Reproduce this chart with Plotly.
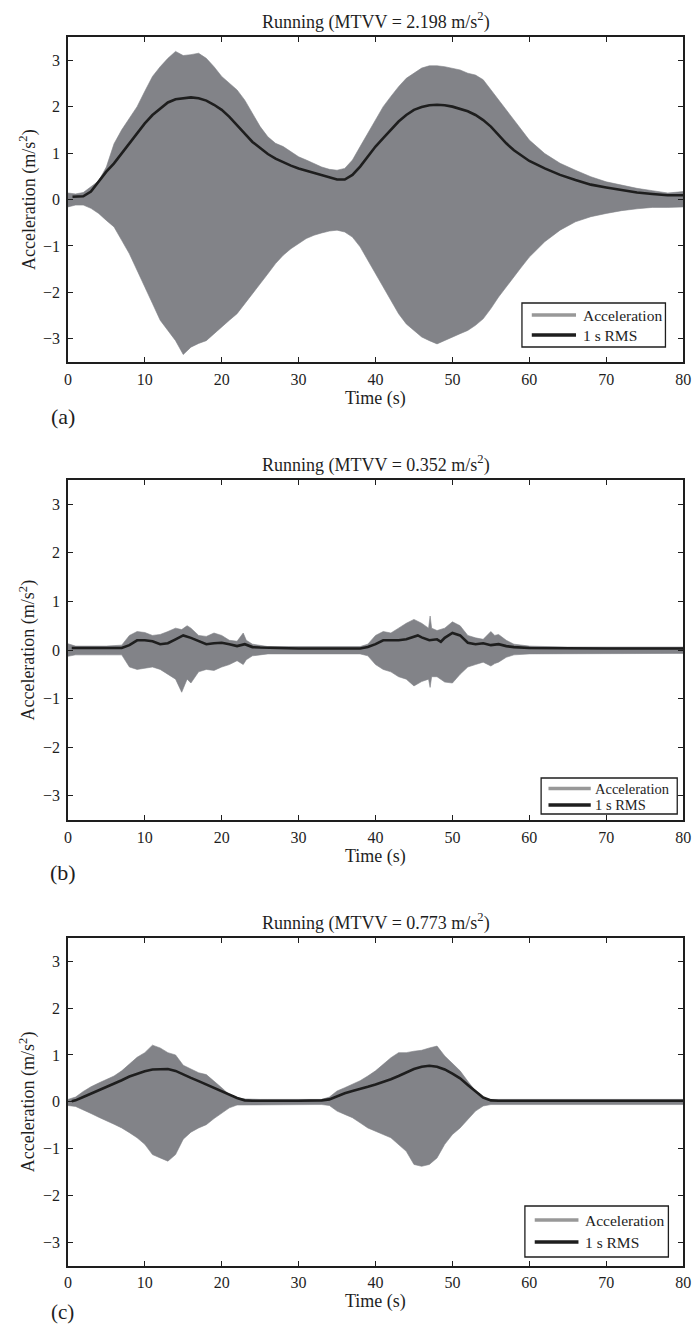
import plotly.graph_objects as go

# ---------------- data ----------------
# Panel (a)
T_A = [0, 1, 2, 3, 4, 5, 6, 7, 8, 9, 10, 11, 12, 13, 14, 15, 16, 17, 18, 19, 20,
       21, 22, 23, 24, 25, 26, 27, 28, 29, 30, 31, 32, 33, 34, 35, 36, 37, 38, 39, 40,
       41, 42, 43, 44, 45, 46, 47, 48, 49, 50, 51, 52, 53, 54, 55, 56, 57, 58, 59, 60,
       62, 64, 66, 68, 70, 72, 74, 76, 78, 80]
UPPER_A = [0.14, 0.12, 0.15, 0.27, 0.40, 0.70, 1.20, 1.50, 1.75, 2.00, 2.33,
           2.65, 2.86, 3.04, 3.19, 3.10, 3.12, 3.15, 3.04, 2.86, 2.65,
           2.50, 2.36, 2.14, 1.86, 1.57, 1.35, 1.21, 1.14, 1.03, 0.92,
           0.85, 0.78, 0.70, 0.65, 0.63, 0.67, 0.85, 1.14, 1.42, 1.71,
           2.00, 2.22, 2.43, 2.61, 2.72, 2.83, 2.88, 2.88, 2.86, 2.83,
           2.79, 2.72, 2.68, 2.58, 2.36, 2.14, 1.93, 1.71, 1.50, 1.28,
           0.99, 0.78, 0.63, 0.49, 0.38, 0.31, 0.24, 0.19, 0.14, 0.17]
LOWER_A = [-0.16, -0.12, -0.12, -0.19, -0.30, -0.45, -0.59, -0.88, -1.17, -1.53, -1.88,
           -2.24, -2.60, -2.82, -3.04, -3.34, -3.18, -3.10, -3.04, -2.89, -2.75,
           -2.60, -2.46, -2.24, -2.03, -1.81, -1.60, -1.38, -1.20, -1.06, -0.95,
           -0.84, -0.77, -0.72, -0.68, -0.66, -0.70, -0.81, -1.02, -1.31, -1.60,
           -1.88, -2.17, -2.46, -2.68, -2.82, -2.96, -3.04, -3.11, -3.04, -2.96,
           -2.89, -2.82, -2.71, -2.57, -2.35, -2.10, -1.88, -1.67, -1.45, -1.24,
           -0.91, -0.66, -0.48, -0.37, -0.30, -0.24, -0.20, -0.17, -0.17, -0.16]
RMS_T_A = [0.6, 1, 2, 3, 4, 5, 6, 7, 8, 9, 10, 11, 12, 13, 14, 15, 16, 17, 18, 19, 20,
           21, 22, 23, 24, 25, 26, 27, 28, 29, 30, 31, 32, 33, 34, 35, 36, 37, 38, 39, 40,
           41, 42, 43, 44, 45, 46, 47, 48, 49, 50, 51, 52, 53, 54, 55, 56, 57, 58, 59, 60,
           62, 64, 66, 68, 70, 72, 74, 76, 78, 80]
RMS_A = [0.06, 0.06, 0.07, 0.17, 0.38, 0.60, 0.78, 0.99, 1.21, 1.42, 1.64,
         1.82, 1.96, 2.09, 2.16, 2.18, 2.20, 2.18, 2.13, 2.04, 1.93,
         1.78, 1.61, 1.42, 1.24, 1.10, 0.98, 0.88, 0.80, 0.73, 0.67,
         0.62, 0.58, 0.53, 0.47, 0.43, 0.43, 0.53, 0.71, 0.92, 1.14,
         1.32, 1.50, 1.68, 1.82, 1.93, 1.99, 2.03, 2.04, 2.03, 2.00,
         1.95, 1.90, 1.82, 1.71, 1.57, 1.39, 1.21, 1.06, 0.94, 0.83,
         0.67, 0.53, 0.42, 0.32, 0.26, 0.20, 0.15, 0.12, 0.09, 0.09]

# Panel (b)
T_B = [0, 1, 3, 5, 7, 8, 9, 10, 11, 12, 13, 14, 14.8, 15.5, 16, 17, 18, 19, 20,
       21, 22, 22.8, 23.2, 24, 26, 30, 34, 38, 39, 40, 41, 42, 43, 44, 45, 46,
       46.9, 47.1, 47.3, 48, 49, 50, 51, 52, 53, 54, 55, 55.5, 56, 57, 58, 60,
       65, 70, 75, 80]
UPPER_B = [0.13, 0.08, 0.08, 0.08, 0.10, 0.30, 0.38, 0.36, 0.30, 0.32, 0.38, 0.45,
           0.42, 0.50, 0.45, 0.30, 0.28, 0.35, 0.30, 0.20, 0.18, 0.35, 0.20, 0.12,
           0.07, 0.07, 0.07, 0.07, 0.12, 0.30, 0.38, 0.35, 0.45, 0.55, 0.63, 0.55,
           0.45, 0.70, 0.45, 0.40, 0.45, 0.58, 0.50, 0.30, 0.25, 0.22, 0.38, 0.30,
           0.32, 0.20, 0.12, 0.08, 0.06, 0.06, 0.06, 0.06]
LOWER_B = [-0.13, -0.10, -0.10, -0.10, -0.10, -0.35, -0.40, -0.38, -0.35, -0.40, -0.50, -0.60,
           -0.87, -0.60, -0.68, -0.45, -0.40, -0.42, -0.35, -0.30, -0.22, -0.30, -0.20, -0.12,
           -0.08, -0.08, -0.08, -0.08, -0.12, -0.30, -0.40, -0.45, -0.55, -0.60, -0.74, -0.65,
           -0.60, -0.77, -0.55, -0.55, -0.66, -0.68, -0.50, -0.35, -0.30, -0.25, -0.33, -0.28,
           -0.25, -0.15, -0.10, -0.08, -0.07, -0.07, -0.07, -0.07]
RMS_T_B = [0.5, 7, 8, 9, 10, 11, 12, 13, 14, 15, 16, 17, 18, 19, 20, 21, 22, 23, 24, 25,
           30, 38, 39, 40, 41, 42, 43, 44, 45, 45.5, 46, 47, 48, 48.5, 49, 50,
           51, 52, 53, 54, 55, 56, 57, 58, 60, 65, 70, 80]
RMS_B = [0.04, 0.04, 0.10, 0.20, 0.20, 0.18, 0.12, 0.14, 0.22, 0.30, 0.25, 0.18, 0.12,
         0.14, 0.15, 0.12, 0.08, 0.12, 0.06, 0.05,
         0.03, 0.03, 0.06, 0.12, 0.20, 0.20, 0.20, 0.22, 0.28, 0.30, 0.26, 0.20, 0.22,
         0.17, 0.25, 0.35,
         0.30, 0.15, 0.12, 0.14, 0.10, 0.12, 0.08, 0.06, 0.04, 0.03, 0.03, 0.03]

# Panel (c)
T_C = [0, 1, 2, 3, 4, 5, 6, 7, 8, 9, 10, 11, 12, 13, 14, 15, 16, 17, 18, 19, 20,
       21, 22, 23, 24, 25, 26, 27, 28, 29, 30, 31, 32, 33, 34, 35, 36, 37, 38, 39, 40,
       41, 42, 43, 44, 45, 46, 47, 48, 49, 50, 51, 52, 53, 54, 55, 56,
       60, 65, 70, 75, 80]
UPPER_C = [0.05, 0.10, 0.22, 0.32, 0.40, 0.48, 0.55, 0.66, 0.80, 0.95, 1.05,
           1.21, 1.15, 1.05, 1.00, 0.78, 0.70, 0.62, 0.58, 0.45, 0.30,
           0.15, 0.08, 0.06, 0.05, 0.05, 0.05, 0.05, 0.05, 0.05, 0.05,
           0.05, 0.05, 0.05, 0.10, 0.23, 0.30, 0.37, 0.45, 0.55, 0.66,
           0.80, 0.94, 1.05, 1.05, 1.08, 1.10, 1.15, 1.19, 0.98, 0.82,
           0.66, 0.44, 0.23, 0.08, 0.05, 0.05,
           0.05, 0.05, 0.05, 0.05, 0.05]
LOWER_C = [-0.08, -0.10, -0.18, -0.25, -0.33, -0.41, -0.48, -0.56, -0.66, -0.77, -0.91,
           -1.13, -1.20, -1.27, -1.13, -0.80, -0.65, -0.56, -0.49, -0.36, -0.24,
           -0.13, -0.07, -0.06, -0.06, -0.06, -0.06, -0.06, -0.06, -0.06, -0.06,
           -0.06, -0.06, -0.06, -0.08, -0.20, -0.27, -0.34, -0.45, -0.56, -0.63,
           -0.70, -0.77, -0.91, -1.06, -1.34, -1.38, -1.34, -1.20, -0.91, -0.70,
           -0.56, -0.38, -0.20, -0.09, -0.06, -0.06,
           -0.06, -0.06, -0.06, -0.06, -0.06]
RMS_T_C = [0.5, 1, 2, 3, 4, 5, 6, 7, 8, 9, 10, 11, 12, 13, 14, 15, 16, 17, 18, 19,
           20, 21, 22, 23, 24, 30, 33, 34, 35, 36, 37, 38, 39, 40, 41, 42, 43,
           44, 45, 46, 47, 48, 49, 50, 51, 52, 53, 54, 55, 56, 60, 70, 80]
RMS_C = [0.01, 0.03, 0.10, 0.17, 0.24, 0.32, 0.39, 0.46, 0.54, 0.60,
         0.65, 0.69, 0.70, 0.70, 0.66, 0.58, 0.51, 0.44, 0.37, 0.30,
         0.23, 0.15, 0.08, 0.03, 0.02, 0.02, 0.03,
         0.05, 0.12, 0.18, 0.23, 0.27, 0.32, 0.37, 0.42, 0.48, 0.55,
         0.62, 0.70, 0.75, 0.77, 0.75, 0.69, 0.60, 0.50, 0.36, 0.22,
         0.09, 0.03, 0.02, 0.02, 0.02, 0.02]

TITLES = ["Running (MTVV = 2.198 m/s<sup>2</sup>)",
          "Running (MTVV = 0.352 m/s<sup>2</sup>)",
          "Running (MTVV = 0.773 m/s<sup>2</sup>)"]
PANEL_LABELS = ["(a)", "(b)", "(c)"]
X_TICKS = [0, 10, 20, 30, 40, 50, 60, 70, 80]
Y_TICKS = [-3, -2, -1, 0, 1, 2, 3]
SERIES_NAMES = ["Acceleration", "1 s RMS"]

# ---------------- layout / style ----------------
W, H = 699, 1326
FONT = "Liberation Serif, Times New Roman, serif"
INK = "#1e1e1e"
FILL = "rgb(130,131,136)"
LEG_GREY = "rgb(152,152,152)"

X0, X1 = 65, 691
PANELS_PX = [(37, 362), (480, 820), (938, 1265.5)]   # plot top, bottom (px)
LABEL_PX = [(416, 22), (872.5, 22), (1312, 21)]        # (a)/(b)/(c) centre y, font
# legend box: left, right, top, bottom, line x0, line x1, text x, row1 y, row2 y, font
LEGEND_PX = [
    (527, 673, 303, 347, 537, 582, 587, 315, 335, 15.5),
    (546.5, 685, 778, 814, 554, 597, 599, 788.5, 805, 14.5),
    (530, 676, 1206, 1257, 540, 584.5, 589.5, 1220, 1242, 15.5),
]

panels = [
    (T_A, UPPER_A, LOWER_A, RMS_T_A, RMS_A),
    (T_B, UPPER_B, LOWER_B, RMS_T_B, RMS_B),
    (T_C, UPPER_C, LOWER_C, RMS_T_C, RMS_C),
]


def px(x):
    return x / W


def py(y):
    return 1 - y / H


fig = go.Figure()
annotations = []
shapes = []
layout_extra = {}

for i, (t, up, lo, rt, rms) in enumerate(panels):
    k = "" if i == 0 else str(i + 1)
    xa, ya = "x" + k, "y" + k
    top, bot = PANELS_PX[i]

    fig.add_trace(go.Scatter(
        x=list(t) + list(t)[::-1], y=list(up) + list(lo)[::-1],
        xaxis=xa, yaxis=ya, mode="lines", fill="toself", fillcolor=FILL,
        line=dict(color=FILL, width=0.6), name=SERIES_NAMES[0],
        showlegend=False, hoverinfo="skip"))
    fig.add_trace(go.Scatter(
        x=rt, y=rms, xaxis=xa, yaxis=ya, mode="lines",
        line=dict(color=INK, width=2.6), name=SERIES_NAMES[1],
        showlegend=False))

    axis_common = dict(
        showline=True, linecolor=INK, linewidth=1.5, mirror="ticks",
        ticks="inside", ticklen=5, tickwidth=1.1, tickcolor=INK,
        showgrid=False, zeroline=False,
        tickfont=dict(family=FONT, size=16, color=INK),
    )
    layout_extra["xaxis" + k] = dict(
        axis_common, domain=[px(X0), px(X1)], range=[0, 80],
        tickvals=X_TICKS, anchor=ya, ticklabelstandoff=2,
        ticklabeloverflow="allow")
    layout_extra["yaxis" + k] = dict(
        axis_common, domain=[py(bot), py(top)], range=[-3.5, 3.5],
        tickvals=Y_TICKS, anchor=xa, ticklabelstandoff=3)

    # legend box (drawn in paper coordinates)
    L, R, T, B, lx0, lx1, tx, r1, r2, fs = LEGEND_PX[i]
    shapes.append(dict(type="rect", xref="paper", yref="paper",
                       x0=px(L), x1=px(R), y0=py(B), y1=py(T),
                       line=dict(color=INK, width=1.3), fillcolor="white",
                       layer="above"))
    for (yy, col, name) in ((r1, LEG_GREY, SERIES_NAMES[0]), (r2, INK, SERIES_NAMES[1])):
        shapes.append(dict(type="line", xref="paper", yref="paper",
                           x0=px(lx0), x1=px(lx1), y0=py(yy), y1=py(yy),
                           line=dict(color=col, width=3.5), layer="above"))
        annotations.append(dict(
            text=name, x=px(tx), y=py(yy), xref="paper", yref="paper",
            xanchor="left", yanchor="middle", showarrow=False,
            font=dict(family=FONT, size=fs, color=INK)))

    cx = px((X0 + X1) / 2)
    annotations.append(dict(
        text=TITLES[i], x=cx, y=py(top - 16), xref="paper", yref="paper",
        xanchor="center", yanchor="middle", showarrow=False,
        font=dict(family=FONT, size=18, color=INK)))
    annotations.append(dict(
        text="Time (s)", x=cx, y=py(bot + 36), xref="paper", yref="paper",
        xanchor="center", yanchor="middle", showarrow=False,
        font=dict(family=FONT, size=18, color=INK)))
    annotations.append(dict(
        text="Acceleration (m/s<sup>2</sup>)", x=px(24), y=py((top + bot) / 2),
        xref="paper", yref="paper", xanchor="center", yanchor="middle",
        textangle=-90, showarrow=False,
        font=dict(family=FONT, size=18, color=INK)))
    ly, lfs = LABEL_PX[i]
    annotations.append(dict(
        text=PANEL_LABELS[i], x=px(60), y=py(ly),
        xref="paper", yref="paper", xanchor="center", yanchor="middle",
        showarrow=False, font=dict(family=FONT, size=lfs, color=INK)))

fig.update_layout(
    width=W, height=H, autosize=False,
    margin=dict(l=0, r=0, t=0, b=0),
    paper_bgcolor="white", plot_bgcolor="white",
    annotations=annotations, shapes=shapes, showlegend=False,
    **layout_extra,
)

# remove the browser's default 8px page margin so the figure sits at (0, 0)
fig.write_html(
    "out.html",
    config={"displayModeBar": False},
    post_script="document.body.style.margin='0px';document.body.style.padding='0px';",
)
